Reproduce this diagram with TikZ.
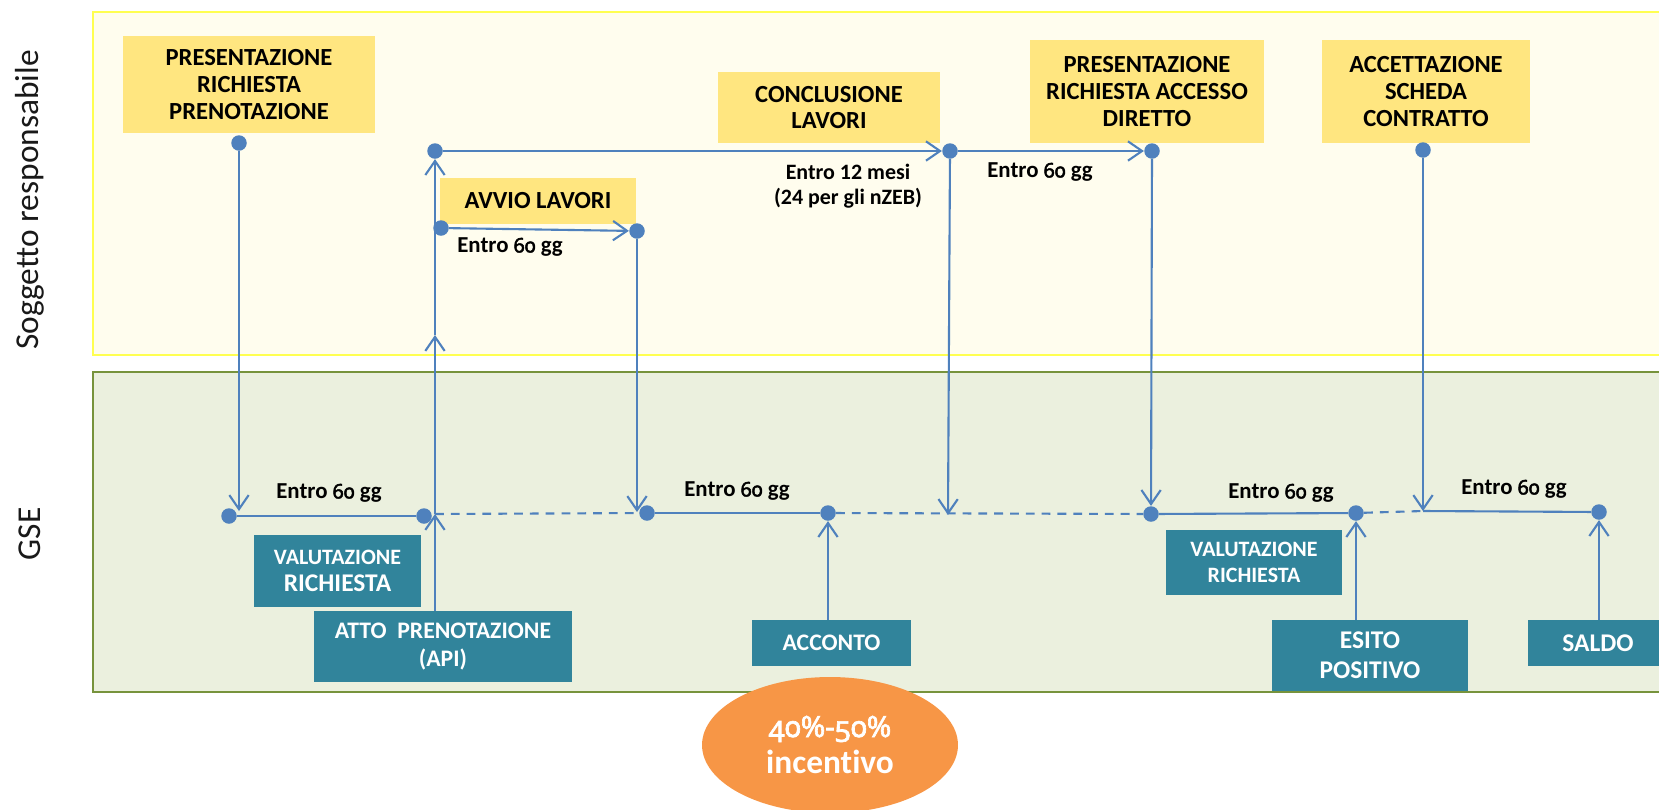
\documentclass[tikz,border=0pt]{standalone}
\usepackage{fontspec}
\setmainfont{Carlito}[Ligatures=NoCommon]
\newfontfamily\osf{Noto Sans}[Numbers=OldStyle, Scale=0.88, FakeBold=2.2]
\usetikzlibrary{arrows.meta,shapes.geometric}
\definecolor{lnblue}{HTML}{4F81BD}
\definecolor{yfill}{HTML}{FFE680}
\definecolor{tfill}{HTML}{31849B}
\definecolor{laney}{HTML}{FFFDEE}
\definecolor{laneyb}{HTML}{FFFF50}
\definecolor{laneg}{HTML}{EBF0DE}
\definecolor{lanegb}{HTML}{77933C}
\definecolor{orng}{HTML}{F79646}
\tikzset{
  yellowbox/.style={fill=yfill, inner sep=0pt, align=center, anchor=center, font=\bfseries\fontsize{14}{15.3}\selectfont, text=black},
  tealbox/.style={fill=tfill, inner sep=0pt, align=center, anchor=center, font=\bfseries\fontsize{13.5}{15.5}\selectfont, text=white},
  dot/.style={circle, fill=lnblue, inner sep=0pt, minimum size=0.31cm},
  conn/.style={draw=lnblue, line width=1.2pt},
  arr/.style={conn, -{Straight Barb[length=8pt,width=11pt]}},
  dashconn/.style={conn, dash pattern=on 5pt off 4pt},
  lbl/.style={font=\bfseries\fontsize{13}{14.5}\selectfont, align=center, inner sep=0pt},
  lanelbl/.style={rotate=90, font=\fontsize{19}{22}\selectfont, text=black!90},
}
\newcommand{\sixty}{{\osf 60}}
\begin{document}
\begin{tikzpicture}[x=0.02cm,y=-0.02cm]
\useasboundingbox (0,0) rectangle (1659,809);
\clip (0,0) rectangle (1659,809);
% lanes
\draw[fill=laney, draw=laneyb, line width=1pt] (93,12) rectangle (1700,355);
\draw[fill=laneg, draw=lanegb, line width=1pt] (93,372) rectangle (1700,692);
\node[lanelbl] (L1) at (30,200) {Soggetto responsabile};
\node[lanelbl] (L2) at (30,534) {GSE};

% yellow boxes
\node[yellowbox, minimum width=5.04cm, minimum height=1.94cm] (PRP) at (249,84.5) {PRESENTAZIONE\\RICHIESTA\\PRENOTAZIONE};
\node[yellowbox, minimum width=3.92cm, minimum height=0.92cm] (AVV) at (538,201) {AVVIO LAVORI};
\node[yellowbox, minimum width=4.44cm, minimum height=1.42cm] (CON) at (829,107.5) {CONCLUSIONE\\LAVORI};
\node[yellowbox, minimum width=4.68cm, minimum height=2.06cm] (ACD) at (1147,91.5) {PRESENTAZIONE\\RICHIESTA ACCESSO\\DIRETTO};
\node[yellowbox, minimum width=4.16cm, minimum height=2.06cm] (ACC) at (1426,91.5) {ACCETTAZIONE\\SCHEDA\\CONTRATTO};

% teal boxes
\node[tealbox, minimum width=3.34cm, minimum height=1.44cm] (VAL1) at (337.5,571) {{\fontsize{12.5}{15.5}\selectfont VALUTAZIONE}\\{\fontsize{14.5}{15.5}\selectfont RICHIESTA}};
\node[tealbox, minimum width=5.16cm, minimum height=1.42cm] (ATTO) at (443,646.5) {ATTO\ \ PRENOTAZIONE\\(API)};
\node[tealbox, minimum width=3.18cm, minimum height=0.92cm] (ACN) at (831.5,643) {ACCONTO};
\node[tealbox, minimum width=3.52cm, minimum height=1.30cm, font=\bfseries\fontsize{12.5}{15}\selectfont] (VAL2) at (1254,562.5) {VALUTAZIONE\\RICHIESTA};
\node[tealbox, minimum width=3.92cm, minimum height=1.42cm, font=\bfseries\fontsize{14.5}{17}\selectfont] (ESI) at (1370,655.5) {ESITO\\POSITIVO};
\node[tealbox, minimum width=2.80cm, minimum height=0.92cm, font=\bfseries\fontsize{14.5}{17}\selectfont] (SAL) at (1598,643) {SALDO};

% ellipse
\node[ellipse, fill=orng, minimum width=5.12cm, minimum height=2.72cm, text=white, align=center,
      font=\bfseries\fontsize{19}{21}\selectfont] (INC) at (830,745) {{\osf 40\%-50\%}\\incentivo};

% dots
\node[dot] (A1) at (239,143) {};
\node[dot] (C1) at (435,151) {};
\node[dot] (AV) at (441,228) {};
\node[dot] (H)  at (637,231) {};
\node[dot] (D1) at (950,151) {};
\node[dot] (D2) at (1152,151) {};
\node[dot] (E1) at (1423,150) {};
\node[dot] (B1) at (229,516) {};
\node[dot] (B2) at (424,516) {};
\node[dot] (G1) at (647,513) {};
\node[dot] (G2) at (828,513) {};
\node[dot] (F1) at (1151,514) {};
\node[dot] (F2) at (1356,513) {};
\node[dot] (F3) at (1599,512) {};

% helper coordinates
\coordinate (K1) at (239,511);
\coordinate (J1) at (435,514);
\coordinate (J2) at (435,335);
\coordinate (K2) at (637,512);
\coordinate (K3) at (948,515);
\coordinate (K4) at (1423,511);

% connectors
\draw[arr] (A1) -- (K1);
\draw[conn] (B1) -- (B2);
\draw[arr] (ATTO.north -| C1) -- (J1);
\draw[arr] (J1) -- (J2);
\draw[arr] (J2) -- (C1);
\draw[arr] (AV) -- (H);
\draw[arr] (H) -- (K2);
\draw[dashconn] (J1) -- (G1);
\draw[conn] (G1) -- (G2);
\draw[arr] (ACN.north -| G2) -- (G2);
\draw[dashconn] (G2) -- (F1);
\draw[arr] (C1) -- (D1);
\draw[arr] (D1) -- (K3);
\draw[arr] (D1) -- (D2);
\draw[arr] (D2) -- (F1);
\draw[conn] (F1) -- (F2);
\draw[arr] (ESI.north -| F2) -- (F2);
\draw[dashconn] (F2) -- (K4);
\draw[arr] (E1) -- (K4);
\draw[conn] (K4) -- (F3);
\draw[arr] (SAL.north -| F3) -- (F3);

% labels
\node[lbl] (T1) at (329,493) {Entro \sixty{} gg};
\node[lbl] (T2) at (510,247) {Entro \sixty{} gg};
\node[lbl] (T3) at (737,491) {Entro \sixty{} gg};
\node[lbl, font=\bfseries\fontsize{12.5}{14.5}\selectfont] (T4) at (848,186) {Entro 12 mesi\\(24 per gli nZEB)};
\node[lbl] (T5) at (1040,172) {Entro \sixty{} gg};
\node[lbl] (T6) at (1281,493) {Entro \sixty{} gg};
\node[lbl] (T7) at (1514,489) {Entro \sixty{} gg};
\end{tikzpicture}
\end{document}
